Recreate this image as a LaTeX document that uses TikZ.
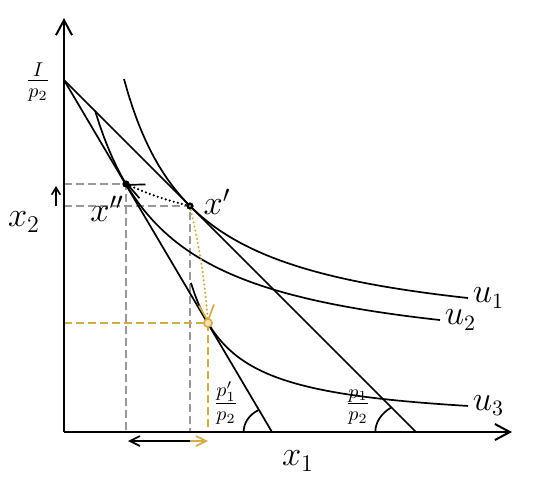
\documentclass[tikz,border=0pt]{standalone}
\usepackage{amsmath}
\usetikzlibrary{arrows.meta}
\definecolor{gold}{RGB}{214,172,72}
\definecolor{goldfill}{RGB}{244,226,178}

\begin{document}
\begin{tikzpicture}[x=5pt,y=5pt,
  ax/.style={line width=1pt,-{Straight Barb[length=7.5pt,width=8pt]}},
  budget/.style={line width=0.85pt},
  indiff/.style={line width=0.85pt},
  guide/.style={gray!80,line width=0.75pt,dash pattern=on 4pt off 2pt},
  goldguide/.style={guide,gold},
  move/.style={line width=1.2pt,line cap=round,dash pattern=on 0pt off 2.1pt,-{Straight Barb[length=8pt,width=7.5pt,line width=0.85pt]}},
  slide/.style={line width=0.85pt,-{Straight Barb[length=5pt,width=5pt]}},
  dot/.style={circle,fill,inner sep=0pt,minimum size=3.5pt},
  golddot/.style={circle,draw=gold,fill=goldfill,line width=0.75pt,inner sep=0pt,minimum size=4pt},
  lbl/.style={font=\fontsize{18}{21}\selectfont},
  ulbl/.style={font=\fontsize{16}{19}\selectfont,inner sep=2pt},
  frac/.style={font=\fontsize{14}{16}\selectfont}]
\useasboundingbox (-6.4,-4.6) rectangle (47.4,43.2);
\coordinate (O) at (0,0);
\coordinate (xend) at (44.8,0);
\coordinate (yend) at (0,41.4);
\coordinate (A) at (0,35.2);
\coordinate (B1) at (35.2,0);
\coordinate (B2) at (20.8,0);
\node[dot] (xpp) at (6.2,24.8) {};
\node[dot] (xp) at (12.6,22.6) {};
\node[golddot] (yel) at (14.4,10.9) {};
\coordinate (h0) at (12.6,-0.9);
\coordinate (hl) at (6.4,-0.9);
\coordinate (hr) at (14.4,-0.9);
\coordinate (v0) at (-0.8,22.6);
\coordinate (v1) at (-0.8,24.6);

\draw[guide] (O |- xpp) -- (xpp.center) -- (xpp |- O);
\draw[guide] (O |- xp) -- (xp.center) -- (xp |- O);
\draw[goldguide] (O |- yel) -- (yel.center) -- (yel |- O);

\draw[ax] (O) -- (xend);
\draw[ax] (O) -- (yend);
\draw[budget] (A) -- (B1);
\draw[budget] (A) -- (B2);
\draw[budget] ([xshift=-14.2pt]B2) arc[start angle=180,end angle=118,x radius=14.2pt,y radius=12.45pt];
\draw[budget] ([xshift=-20.35pt]B1) arc[start angle=180,end angle=128,x radius=20.35pt,y radius=15.45pt];

\draw[indiff] plot[domain=6:40.4,samples=80] (\x,{8.85+189.06/(\x+1.15)}) node[right,ulbl] (u1) {$u_1$};
\draw[indiff] plot[domain=3.1:37.6,samples=80] (\x,{6.52+197.39/(\x+4.6)}) node[right,ulbl] (u2) {$u_2$};
\draw[indiff] plot[domain=12.7:40.4,samples=80] (\x,{0.68+61.74/(\x-8.36)}) node[right,ulbl] (u3) {$u_3$};

\node[dot] at (xpp) {};
\node[dot] at (xp) {};
\draw[move] (xp.center) to[bend left=5] (xpp.center);
\draw[move,gold] (xp.center) to[bend left=4] (yel.center);
\node[golddot] at (yel) {};

\draw[slide] (h0) -- (hl);
\draw[slide,gold] (h0) -- (hr);
\draw[line width=0.85pt,-{Straight Barb[length=3.5pt,width=4.3pt]}] (v0) -- (v1);

\node[lbl] (lxpp) at (4.3,22.3) {$x''$};
\node[lbl] (lxp) at (15.3,23.0) {$x'$};
\node[lbl] (lx1) at (23.4,-2.9) {$x_1$};
\node[lbl] (lx2) at (-4.0,21.0) {$x_2$};
\node[frac] (lI) at (-2.6,35.0) {$\frac{I}{p_2}$};
\node[frac] (lp1n) at (16.2,2.9) {$\frac{p_1'}{p_2}$};
\node[frac] (lp1) at (29.4,2.5) {$\frac{p_1}{p_2}$};
\end{tikzpicture}
\end{document}
